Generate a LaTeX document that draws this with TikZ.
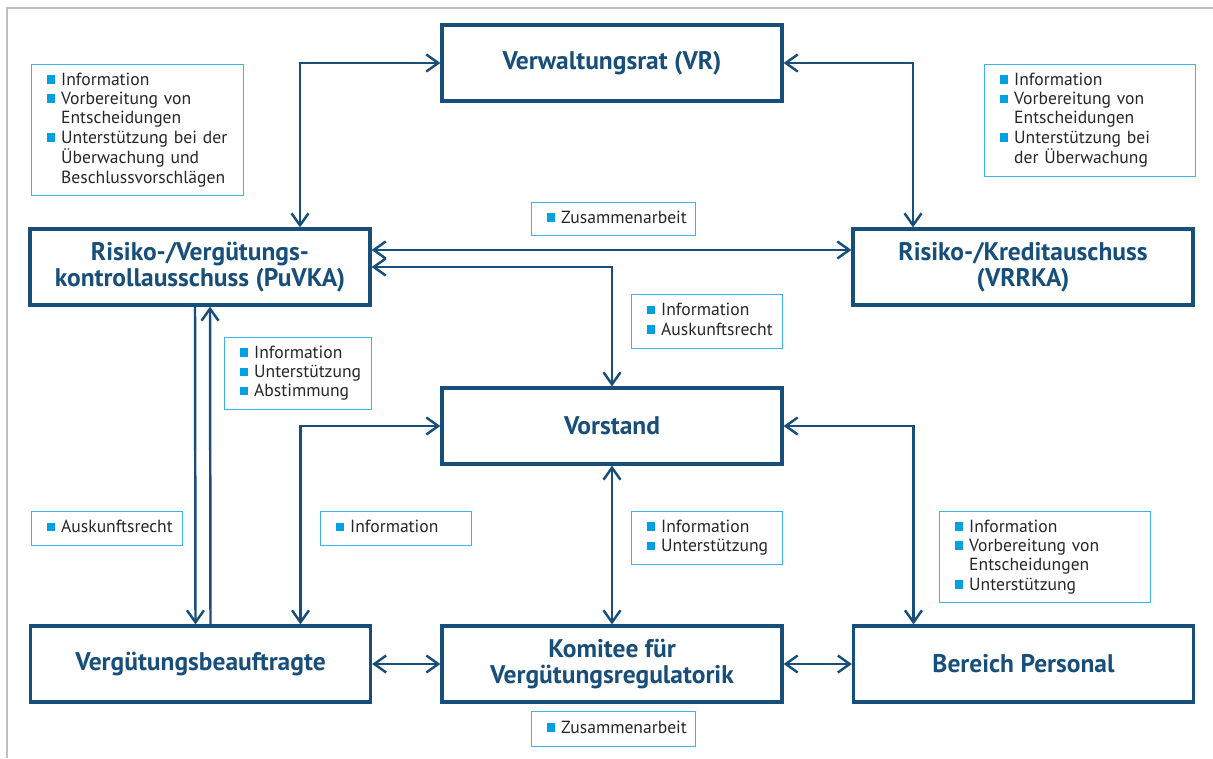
\documentclass[tikz,border=0pt]{standalone}
\usepackage{fontspec}
\setmainfont{PT Sans}
\usetikzlibrary{arrows.meta,positioning}

\definecolor{dunkelblau}{RGB}{24,78,122}
\definecolor{hellblau}{RGB}{60,180,230}
\definecolor{punktblau}{RGB}{0,160,225}
\newcommand{\pkt}{\textcolor{punktblau}{\rule[0.03cm]{0.17cm}{0.17cm}}}

\begin{document}
\begin{tikzpicture}[<->, >={Straight Barb[length=2.4mm,width=3.4mm]},
  node distance=8.23cm, line width=1.4pt,
  main node/.style={rectangle,draw=dunkelblau,line width=1.8pt,minimum width=6.8cm,
    minimum height=1.52cm,align=center,text=dunkelblau,
    font=\bfseries\fontsize{14.5}{14.5}\selectfont},
  info node/.style={rectangle,draw=hellblau,line width=0.8pt,anchor=north west,
    inner xsep=0.3cm,inner ysep=0pt,align=left,text=black!85,
    font=\fontsize{10}{11}\selectfont}]
  \useasboundingbox (0,0) rectangle (24.26,-15.16);
  \draw[-,gray!50,line width=0.8pt] (0.14,-15.16) |- (24.26,-0.16);

  \node[main node] (2) at (4,-5.34) {Risiko-/Vergütungs-\\kontrollausschuss (PuVKA)};
  \node[main node] (1) at (12.24,-1.26) {Verwaltungsrat (VR)};
  \node[main node] (3) [right of=2, node distance=16.46cm] {Risiko-/Kreditauschuss\\(VRRKA)};
  \node[main node] (4) [below of=1, node distance=7.26cm] {Vorstand};
  \node[main node] (6) [below of=4, node distance=4.76cm] {Komitee für\\Vergütungsregulatorik};
  \node[main node] (5) [left of=6] {Vergütungsbeauftragte};
  \node[main node] (7) [right of=6] {Bereich Personal};

  % Hinweise
  \node[info node, text width=3.64cm, minimum height=2.62cm] (n1) at (0.62,-1.28)
    {\begin{tabular}{@{}l@{\hspace{0.12cm}}l@{}}
      \pkt & Information\\ \pkt & Vorbereitung von\\ & Entscheidungen\\
      \pkt & Unterstützung bei der\\ & Überwachung und\\ & Beschlussvorschlägen
    \end{tabular}};
  \node[info node, text width=3.62cm, minimum height=2.24cm] (n2) at (19.68,-1.28)
    {\begin{tabular}{@{}l@{\hspace{0.12cm}}l@{}}
      \pkt & Information\\ \pkt & Vorbereitung von\\ & Entscheidungen\\
      \pkt & Unterstützung bei\\ & der Überwachung
    \end{tabular}};
  \node[info node, text width=2.68cm, minimum height=0.66cm] (n3) at (10.62,-4.04)
    {\begin{tabular}{@{}l@{\hspace{0.12cm}}l@{}} \pkt & Zusammenarbeit \end{tabular}};
  \node[info node, text width=2.42cm, minimum height=1.08cm] (n4) at (12.62,-5.88)
    {\begin{tabular}{@{}l@{\hspace{0.12cm}}l@{}}
      \pkt & Information\\ \pkt & Auskunftsrecht
    \end{tabular}};
  \node[info node, text width=2.34cm, minimum height=1.44cm] (n5) at (4.48,-6.74)
    {\begin{tabular}{@{}l@{\hspace{0.12cm}}l@{}}
      \pkt & Information\\ \pkt & Unterstützung\\ \pkt & Abstimmung
    \end{tabular}};
  \node[info node, text width=2.42cm, minimum height=0.68cm] (n6) at (0.62,-10.22)
    {\begin{tabular}{@{}l@{\hspace{0.12cm}}l@{}} \pkt & Auskunftsrecht \end{tabular}};
  \node[info node, text width=2.42cm, minimum height=0.68cm] (n7) at (6.40,-10.22)
    {\begin{tabular}{@{}l@{\hspace{0.12cm}}l@{}} \pkt & Information \end{tabular}};
  \node[info node, text width=2.42cm, minimum height=1.06cm] (n8) at (12.62,-10.22)
    {\begin{tabular}{@{}l@{\hspace{0.12cm}}l@{}}
      \pkt & Information\\ \pkt & Unterstützung
    \end{tabular}};
  \node[info node, text width=3.62cm, minimum height=1.82cm] (n9) at (18.78,-10.22)
    {\begin{tabular}{@{}l@{\hspace{0.12cm}}l@{}}
      \pkt & Information\\ \pkt & Vorbereitung von\\ & Entscheidungen\\
      \pkt & Unterstützung
    \end{tabular}};
  \node[info node, text width=2.68cm, minimum height=0.70cm] (n10) at (10.62,-14.22)
    {\begin{tabular}{@{}l@{\hspace{0.12cm}}l@{}} \pkt & Zusammenarbeit \end{tabular}};

  % Verbindungen
  \draw[dunkelblau] ([xshift=2cm]2.north) |- (1.west);
  \draw[dunkelblau] (1.east) -| ([xshift=-2.2cm]3.north);
  \draw[dunkelblau] ([yshift=0.34cm]2.east) -- ([yshift=0.34cm]3.west);
  \draw[dunkelblau] (2.east) -| (4.north);
  \draw[dunkelblau,->] ([xshift=-0.1cm]2.south) -- ([xshift=-0.1cm]5.north);
  \draw[dunkelblau,->] ([xshift=0.2cm]5.north) -- ([xshift=0.2cm]2.south);
  \draw[dunkelblau] (4.west) -| ([xshift=2cm]5.north);
  \draw[dunkelblau] (4) -- (6);
  \draw[dunkelblau] (4.east) -| ([xshift=-2.2cm]7.north);
  \draw[dunkelblau] (5) -- (6);
  \draw[dunkelblau] (6) -- (7);
\end{tikzpicture}
\end{document}
